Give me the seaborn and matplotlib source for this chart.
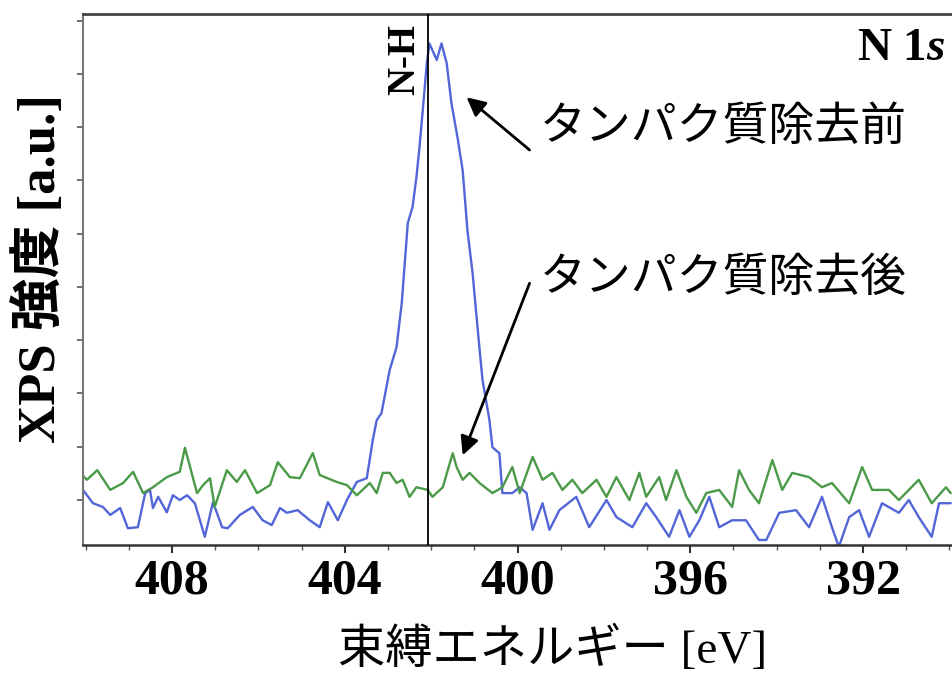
import matplotlib
matplotlib.use("Agg")
import matplotlib.pyplot as plt
import seaborn as sns
import pandas as pd
from matplotlib.ticker import MultipleLocator, FixedLocator, NullFormatter

# ---- data (binding energy [eV], intensity [a.u.]) ----
before_energy = [410.06, 409.83, 409.60, 409.43, 409.20, 409.02, 408.79, 408.62, 408.51, 408.44,
                 408.32, 408.12, 407.98, 407.82, 407.65, 407.47, 407.24, 407.05, 406.84, 406.71,
                 406.43, 406.13, 405.90, 405.69, 405.50, 405.34, 405.09, 404.81, 404.58, 404.39,
                 404.16, 403.95, 403.72, 403.49, 403.35, 403.26, 403.15, 402.96, 402.80, 402.68,
                 402.61, 402.54, 402.43, 402.34, 402.27, 402.20, 402.10, 402.04, 401.87, 401.76,
                 401.64, 401.53, 401.39, 401.27, 401.16, 401.04, 400.92, 400.81, 400.65, 400.58,
                 400.42, 400.35, 400.12, 399.95, 399.79, 399.65, 399.42, 399.26, 399.03, 398.64,
                 398.34, 397.94, 397.71, 397.34, 397.02, 396.79, 396.49, 396.25, 396.02, 395.79,
                 395.56, 395.33, 395.03, 394.71, 394.41, 394.24, 393.94, 393.55, 393.25, 392.95,
                 392.72, 392.56, 392.32, 392.09, 391.86, 391.56, 391.17, 390.94, 390.71, 390.41,
                 390.24, 389.97]
before_intensity = [0.19, -0.06, -0.13, -0.28, -0.15, -0.53, -0.51, 0.13, 0.19, -0.15,
                    0.06, -0.23, 0.09, 0.00, 0.09, -0.06, -0.69, -0.04, -0.51, -0.53,
                    -0.28, -0.13, -0.38, -0.47, -0.15, -0.24, -0.19, -0.38, -0.51, -0.04,
                    -0.38, 0.00, 0.34, 0.41, 1.13, 1.50, 1.63, 2.44, 2.87, 3.70,
                    4.45, 5.20, 5.50, 6.06, 6.62, 7.26, 8.20, 8.57, 8.26, 8.57,
                    8.20, 7.45, 6.81, 6.19, 5.07, 4.26, 3.19, 2.25, 1.50, 0.99,
                    0.88, 0.13, 0.13, 0.24, 0.13, -0.56, -0.06, -0.56, -0.19, 0.06,
                    -0.51, 0.00, -0.32, -0.51, -0.06, -0.32, -0.69, -0.19, -0.69, -0.38,
                    0.06, -0.51, -0.38, -0.38, -0.75, -0.75, -0.24, -0.19, -0.51, 0.06,
                    -0.51, -0.88, -0.32, -0.19, -0.69, -0.06, -0.24, 0.00, -0.32, -0.69,
                    -0.06, -0.06]

after_energy = [410.13, 409.97, 409.73, 409.43, 409.13, 408.90, 408.67, 408.44, 408.12, 407.82,
                407.70, 407.42, 407.28, 407.12, 407.01, 406.73, 406.50, 406.31, 406.03, 405.73,
                405.55, 405.27, 405.04, 404.74, 404.58, 404.19, 403.95, 403.72, 403.42, 403.26,
                403.12, 402.96, 402.80, 402.66, 402.50, 402.34, 402.08, 401.97, 401.73, 401.50,
                401.41, 401.27, 401.11, 400.88, 400.58, 400.35, 400.12, 399.95, 399.65, 399.42,
                399.19, 398.96, 398.73, 398.50, 398.17, 397.94, 397.71, 397.41, 397.18, 397.02,
                396.72, 396.56, 396.32, 396.09, 395.86, 395.63, 395.33, 395.03, 394.87, 394.64,
                394.41, 394.10, 393.87, 393.64, 393.25, 392.95, 392.72, 392.32, 392.02, 391.79,
                391.40, 391.17, 390.71, 390.41, 390.08, 389.97]
after_intensity = [0.51, 0.38, 0.56, 0.19, 0.32, 0.53, 0.13, 0.24, 0.43, 0.53,
                   0.98, 0.13, 0.28, 0.41, -0.13, 0.56, 0.34, 0.56, 0.13, 0.28,
                   0.71, 0.43, 0.41, 0.88, 0.47, 0.34, 0.28, 0.09, 0.32, 0.13,
                   0.51, 0.51, 0.32, 0.38, 0.06, 0.24, 0.19, 0.06, 0.24, 0.88,
                   0.62, 0.38, 0.51, 0.32, 0.13, 0.24, 0.62, 0.13, 0.81, 0.38,
                   0.51, 0.19, 0.38, 0.13, 0.38, 0.06, 0.43, 0.00, 0.51, 0.06,
                   0.43, 0.00, 0.56, 0.06, -0.24, 0.13, 0.19, -0.13, 0.56, 0.19,
                   -0.06, 0.75, 0.19, 0.51, 0.43, 0.24, 0.32, -0.06, 0.62, 0.19,
                   0.19, 0.00, 0.38, -0.06, 0.24, 0.13]

series_names = ["タンパク質除去前", "タンパク質除去後"]
nh_position = 402.08
x_major_ticks = [408, 404, 400, 396, 392]

# ---- styling ----
sns.set_theme(style="ticks")
plt.rcParams["font.family"] = ["Liberation Serif", "Noto Sans CJK JP", "DejaVu Sans"]
plt.rcParams["text.color"] = "black"
plt.rcParams["axes.labelcolor"] = "black"
plt.rcParams["xtick.labelcolor"] = "black"
plt.rcParams["mathtext.fontset"] = "custom"
plt.rcParams["mathtext.it"] = "Liberation Serif:bold:italic"
plt.rcParams["mathtext.rm"] = "Liberation Serif:bold"

df = pd.concat([
    pd.DataFrame({"energy": before_energy, "intensity": before_intensity, "series": series_names[0]}),
    pd.DataFrame({"energy": after_energy, "intensity": after_intensity, "series": series_names[1]}),
])

fig = plt.figure(figsize=(9.52, 6.75), dpi=100)
ax = fig.add_axes([0.0872, 0.1926, 0.9128, 0.7864])

sns.lineplot(data=df, x="energy", y="intensity", hue="series",
             palette={series_names[0]: "#5266d8", series_names[1]: "#4a9a48"},
             linewidth=1.7, legend=False, ax=ax, estimator=None)

ax.axvline(nh_position, color="black", lw=1.3, zorder=5)

ax.set_xlim(410.06, 389.94)
ax.set_ylim(-0.844, 9.12)

ax.xaxis.set_major_locator(FixedLocator(x_major_ticks))
ax.xaxis.set_minor_locator(MultipleLocator(1))
ax.yaxis.set_major_locator(MultipleLocator(1))
ax.yaxis.set_major_formatter(NullFormatter())
ax.tick_params(axis="x", which="major", direction="out", length=6, width=1.5,
               color="#333333", labelsize=36, pad=4, labelcolor="black")
ax.tick_params(axis="x", which="minor", direction="out", length=3.5, width=1.0, color="#555555")
ax.tick_params(axis="y", which="major", direction="out", length=4, width=1.2, color="#555555")
for lab in ax.get_xticklabels():
    lab.set_fontweight("bold")
    lab.set_color("black")

ax.spines["right"].set_visible(False)
ax.spines["top"].set_color("#444444")
ax.spines["top"].set_linewidth(2.0)
ax.spines["left"].set_color("#777777")
ax.spines["left"].set_linewidth(1.5)
ax.spines["bottom"].set_color("#333333")
ax.spines["bottom"].set_linewidth(1.8)

ax.set_xlabel("束縛エネルギー [eV]", fontsize=34, color="black",
              family=["Liberation Serif", "Noto Sans CJK JP"])
ax.xaxis.label.set_va("center")
ax.xaxis.set_label_coords(0.54, -0.198)

ax.set_ylabel("XPS 強度 [a.u.]", fontsize=38, fontweight="bold", color="black",
              family=["Liberation Serif", "Noto Sans CJK JP"])
ax.yaxis.label.set_va("center")
ax.yaxis.set_label_coords(-0.0495, 0.52)

ax.text(402.60, 8.26, "N-H", rotation=90, ha="center", va="center", color="black",
        fontsize=28, fontweight="bold", family="Liberation Serif")
ax.text(390.10, 8.46, r"N 1$\mathit{s}$", ha="right", va="center", color="black",
        fontsize=34, fontweight="bold", family="Liberation Serif")

ax.text(399.49, 7.00, series_names[0], ha="left", va="center", fontsize=33,
        color="black", family=["Noto Sans CJK JP"])
ax.text(399.49, 4.17, series_names[1], ha="left", va="center", fontsize=33,
        color="black", family=["Noto Sans CJK JP"])

arrow_kw = dict(arrowstyle="-|>", lw=2.0, color="black", mutation_scale=28,
                shrinkA=0, shrinkB=0)
ax.annotate("", xy=(401.18, 7.56), xytext=(399.72, 6.57), arrowprops=arrow_kw)
ax.annotate("", xy=(401.27, 0.84), xytext=(399.72, 4.07), arrowprops=arrow_kw)

fig.savefig("out.png", dpi=100)
